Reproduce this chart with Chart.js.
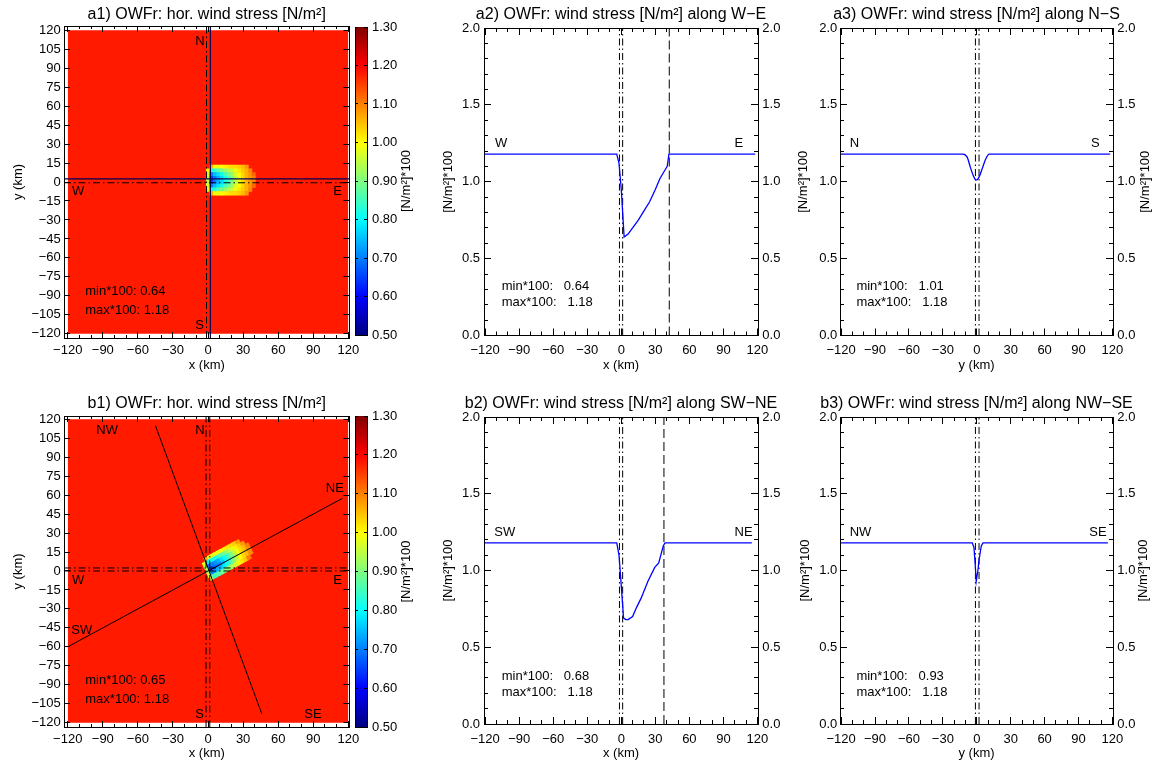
<!DOCTYPE html>
<html>
<head>
<meta charset="utf-8">
<title>OWFr wind stress</title>
<script src="https://cdn.jsdelivr.net/npm/chart.js@4.4.1/dist/chart.umd.min.js"></script>
<style>
  html, body { margin: 0; padding: 0; background: #fff; }
  #page { position: relative; width: 1154px; height: 762px; overflow: hidden; background: #fff; }
  #page canvas { position: absolute; }
</style>
</head>
<body>
<div id="page"></div>
<script>
// -- Values ----------------------------------------------------------------

// axis ticks
const kmTicks = [-120, -90, -60, -30, 0, 30, 60, 90, 120];
const kmMinorTicks = [-120, -110, -100, -90, -80, -70, -60, -50, -40, -30, -20, -10, 0,
  10, 20, 30, 40, 50, 60, 70, 80, 90, 100, 110, 120];
const kmTicksY = [-120, -105, -90, -75, -60, -45, -30, -15, 0, 15, 30, 45, 60, 75, 90, 105, 120];
const stressTicks = [0, 0.5, 1.0, 1.5, 2.0];
const stressMinorTicks = [0, 0.1, 0.2, 0.3, 0.4, 0.5, 0.6, 0.7, 0.8, 0.9, 1.0,
  1.1, 1.2, 1.3, 1.4, 1.5, 1.6, 1.7, 1.8, 1.9, 2.0];
const cbarTicks = [0.5, 0.6, 0.7, 0.8, 0.9, 1.0, 1.1, 1.2, 1.3];

// colour table anchors (jet)
const cbarStops = [0.5, 0.6, 0.8, 1.0, 1.2, 1.3];
const cbarColors = ['#000080', '#0000ff', '#00ffff', '#ffff00', '#ff0000', '#800000'];

// horizontal field: model domain and undisturbed value
const fieldX = [-120, 120];
const fieldY = [-120, 120];
const fieldBackground = 1.18;
const cellStep = 3;

// a1 wake, rows north -> south, columns west -> east
const a1CellX = [0, 3, 6, 9, 12, 15, 18, 21, 24, 27, 30, 33, 36, 39];
const a1CellY = [12, 9, 6, 3, 0, -3, -6, -9];
const a1Cells = [
  [1.18, 1.06, 0.99, 0.99, 1.00, 1.01, 1.02, 1.03, 1.03, 1.04, 1.05, 1.08, 1.18, 1.18],
  [1.01, 0.81, 0.84, 0.87, 0.89, 0.92, 0.94, 0.96, 0.99, 1.02, 1.04, 1.06, 1.09, 1.18],
  [0.97, 0.70, 0.75, 0.78, 0.81, 0.86, 0.89, 0.92, 0.97, 1.00, 1.03, 1.06, 1.08, 1.12],
  [0.95, 0.65, 0.70, 0.74, 0.77, 0.82, 0.86, 0.90, 0.95, 0.99, 1.03, 1.06, 1.08, 1.10],
  [0.95, 0.64, 0.70, 0.74, 0.77, 0.82, 0.86, 0.90, 0.95, 0.99, 1.03, 1.06, 1.08, 1.10],
  [0.97, 0.70, 0.75, 0.78, 0.81, 0.86, 0.89, 0.92, 0.97, 1.00, 1.03, 1.06, 1.08, 1.12],
  [1.01, 0.81, 0.84, 0.87, 0.89, 0.92, 0.94, 0.96, 0.99, 1.02, 1.04, 1.06, 1.09, 1.18],
  [1.18, 1.06, 0.99, 0.99, 1.00, 1.01, 1.02, 1.03, 1.03, 1.04, 1.05, 1.08, 1.18, 1.18],
];

// b1 wake along the SW-NE line: u along the line, w across it (w > 0 towards NW)
const b1AxisDeg = 26.6;
const b1CellU = [0, 3, 6, 9, 12, 15, 18, 21, 24, 27, 30, 33, 36, 39];
const b1CellW = [9, 6, 3, 0, -3, -6];
const b1Cells = [
  [1.18, 1.06, 0.98, 0.98, 0.99, 0.99, 1.00, 1.01, 1.02, 1.03, 1.04, 1.08, 1.18, 1.18],
  [0.97, 0.79, 0.81, 0.82, 0.83, 0.86, 0.88, 0.91, 0.95, 0.98, 1.01, 1.04, 1.08, 1.18],
  [0.94, 0.69, 0.70, 0.72, 0.74, 0.78, 0.81, 0.85, 0.90, 0.95, 0.99, 1.03, 1.05, 1.10],
  [0.93, 0.65, 0.67, 0.69, 0.71, 0.75, 0.79, 0.83, 0.89, 0.94, 0.99, 1.03, 1.05, 1.09],
  [0.95, 0.70, 0.72, 0.74, 0.75, 0.79, 0.82, 0.86, 0.91, 0.95, 1.00, 1.03, 1.05, 1.09],
  [0.99, 0.85, 0.86, 0.87, 0.88, 0.90, 0.92, 0.94, 0.97, 0.99, 1.02, 1.04, 1.10, 1.18],
];

// section lines drawn on the maps
const a1SectionWE = 2.5;     // y of the W-E section
const a1SectionNS = 2.0;     // x of the N-S section
const a1CentreX = [-1.3];
const a1CentreY = [-0.6];
const b1SectionNE = [[-120, -60], [115, 57.5]];
const b1SectionNW = [[-45, 115], [46, -113]];
const b1CentreX = [-1.7, 1.5];
const b1CentreY = [2.4, 0.0];

// profiles along the sections
const weX = [-121, -4, -2, 0, 2.5, 6, 10, 15, 20, 25, 30, 34, 38, 40.5, 42, 118];
const weStress = [1.18, 1.18, 1.12, 0.95, 0.64, 0.66, 0.70, 0.75, 0.81, 0.87, 0.95, 1.02, 1.07, 1.10, 1.18, 1.18];
const nsY = [-121, -12.5, -8.5, -5.5, -2.5, -0.5, 2, 5, 8, 11, 118];
const nsStress = [1.18, 1.18, 1.16, 1.09, 1.03, 1.01, 1.03, 1.09, 1.15, 1.18, 1.18];
const swneX = [-121, -4, -2, 0, 2, 4, 6, 10, 13.5, 17.5, 23.5, 29.5, 33, 37, 38.5, 115];
const swneStress = [1.18, 1.18, 1.10, 0.90, 0.69, 0.68, 0.68, 0.70, 0.76, 0.82, 0.93, 1.02, 1.05, 1.16, 1.18, 1.18];
const nwseY = [-121, -4, -2.5, -1.5, -0.5, 1, 2, 4, 5.5, 116];
const nwseStress = [1.18, 1.18, 1.15, 1.05, 0.93, 1.00, 1.07, 1.16, 1.18, 1.18];

// marker lines in the profile panels
const rowACentre = [-1.6, 1.2];
const colCentre = [-1.2, 2.0];
const weWakeEnd = 42.3;
const swneWakeEnd = 37.6;

// -- Look ------------------------------------------------------------------

const FONT = '"Liberation Sans", Arial, Helvetica, sans-serif';
const DASH_DOT = [7, 3, 1.5, 3];
const DASHED = [9, 4];
const NOTE_FONT = '13px ' + FONT;

Chart.defaults.font.family = FONT;
Chart.defaults.font.size = 13;
Chart.defaults.color = '#000';
Chart.defaults.animation = false;

// -- Helpers ---------------------------------------------------------------

const fmtKm = (v) => (v < 0 ? '\u2212' + Math.abs(v) : String(v));
const fmt1 = (v) => Number(v).toFixed(1);
const fmt2 = (v) => Number(v).toFixed(2);

function hexRgb(h) {
  return [1, 3, 5].map((i) => parseInt(h.slice(i, i + 2), 16));
}

function stressColor(v) {
  const lo = cbarStops[0], hi = cbarStops[cbarStops.length - 1];
  const t = Math.min(Math.max(v, lo), hi);
  let i = 0;
  while (i < cbarStops.length - 2 && t > cbarStops[i + 1]) i++;
  const f = (t - cbarStops[i]) / (cbarStops[i + 1] - cbarStops[i]);
  const a = hexRgb(cbarColors[i]), b = hexRgb(cbarColors[i + 1]);
  const c = a.map((ch, k) => Math.round(ch + (b[k] - ch) * f));
  return `rgb(${c[0]},${c[1]},${c[2]})`;
}

function makeCanvas(box) {
  const [x, y, w, h] = box;
  const c = document.createElement('canvas');
  c.width = w;
  c.height = h;
  c.style.left = x + 'px';
  c.style.top = y + 'px';
  c.style.width = w + 'px';
  c.style.height = h + 'px';
  document.getElementById('page').appendChild(c);
  return c;
}

function labelTicks(padding, callback) {
  return { display: true, padding, callback, autoSkip: false, maxRotation: 0, minRotation: 0 };
}

// One side of a plot frame: inward ticks, fixed box size.
// Border z > grid z so the border is drawn after the grid items are computed.
function axis(position, range, ticks, tickLen, size, weight, extra) {
  const horizontal = position === 'top' || position === 'bottom';
  return Object.assign({
    type: 'linear',
    position,
    min: range[0],
    max: range[1],
    weight,
    grid: { drawOnChartArea: false, drawTicks: true, tickLength: -tickLen, color: '#000', lineWidth: 1, z: 1 },
    border: { display: weight > 0, color: '#000', width: 1, z: 2 },
    ticks: { display: false },
    title: { display: false },
    afterBuildTicks: (scale) => { scale.ticks = ticks.map((value) => ({ value })); },
    afterFit: (scale) => { if (horizontal) scale.height = size; else scale.width = size; },
  }, extra || {});
}

function frameScales(p) {
  const [cx, cy, cw, ch] = p.canvas;
  const [fl, ft, fr, fb] = p.frame;
  const scales = {
    x: axis('bottom', p.xRange, p.xTicks, p.major, cy + ch - fb, 1, {
      ticks: labelTicks(p.xLabelPad, fmtKm),
      title: { display: true, text: p.xTitle, padding: { top: 0, bottom: p.xTitlePad } },
    }),
    xt: axis('top', p.xRange, p.xTicks, p.major, ft - cy, 1),
    y: axis('left', p.yRange, p.yTicks, p.major, fl - cx, 1, {
      ticks: labelTicks(p.yLabelPad, p.fmtY),
      title: { display: true, text: p.yTitle, padding: { top: p.yTitlePad, bottom: 0 } },
    }),
    yr: axis('right', p.yRange, p.yTicks, p.major, cx + cw - fr, 1,
      p.rightLabels ? { ticks: labelTicks(p.yLabelPadR, p.fmtY) } : {}),
  };
  if (p.xMinor) {
    scales.xm = axis('bottom', p.xRange, p.xMinor, p.minor, 0, 0);
    scales.xtm = axis('top', p.xRange, p.xMinor, p.minor, 0, 0);
  }
  if (p.yMinor) {
    scales.ym = axis('left', p.yRange, p.yMinor, p.minor, 0, 0);
    scales.yrm = axis('right', p.yRange, p.yMinor, p.minor, 0, 0);
  }
  return scales;
}

// Titles, in-plot labels and right-hand rotated titles.
const notesPlugin = {
  id: 'notes',
  afterDraw(chart, args, opts) {
    const { ctx, chartArea, scales } = chart;
    ctx.save();
    ctx.fillStyle = '#000';
    ctx.textBaseline = 'middle';
    if (opts.heading) {
      ctx.font = '16px ' + FONT;
      ctx.textAlign = 'center';
      ctx.fillText(opts.heading.text, (chartArea.left + chartArea.right) / 2, opts.heading.y);
    }
    (opts.items || []).forEach((n) => {
      ctx.font = NOTE_FONT;
      ctx.textAlign = 'left';
      ctx.fillText(n.text, scales.x.getPixelForValue(n.x), scales.y.getPixelForValue(n.y));
    });
    if (opts.sideTitle) {
      ctx.font = '13px ' + FONT;
      ctx.translate(chartArea.right + opts.sideTitle.dx, (chartArea.top + chartArea.bottom) / 2);
      ctx.rotate(-Math.PI / 2);
      ctx.textAlign = 'center';
      ctx.fillText(opts.sideTitle.text, 0, 0);
    }
    ctx.restore();
  },
};

function baseOptions(scales, notes) {
  return {
    responsive: false,
    animation: false,
    devicePixelRatio: 1,
    events: [],
    layout: { padding: 0, autoPadding: false },
    plugins: { legend: { display: false }, tooltip: { enabled: false }, notes },
    scales,
  };
}

function segment(points, color, width, dash, order) {
  return {
    type: 'line',
    data: points.map(([x, y]) => ({ x, y })),
    borderColor: color,
    borderWidth: width,
    borderDash: dash || [],
    pointRadius: 0,
    fill: false,
    tension: 0,
    order,
    xAxisID: 'x',
    yAxisID: 'y',
  };
}

// Square cell size taken from the axes, so the cells tile the map.
function cellRadius(chart, extra) {
  const sx = chart.scales.x, sy = chart.scales.y;
  const dx = Math.abs(sx.getPixelForValue(cellStep) - sx.getPixelForValue(0));
  const dy = Math.abs(sy.getPixelForValue(cellStep) - sy.getPixelForValue(0));
  return (Math.max(dx, dy) + extra) / Math.SQRT2;
}

function cellRotation(chart, deg) {
  if (!deg) return 0;
  const a = deg * Math.PI / 180;
  const sx = chart.scales.x, sy = chart.scales.y;
  const dx = sx.getPixelForValue(Math.cos(a)) - sx.getPixelForValue(0);
  const dy = sy.getPixelForValue(Math.sin(a)) - sy.getPixelForValue(0);
  return Math.atan2(dy, dx) * 180 / Math.PI;
}

function gridCells(xs, ys, rows, deg) {
  const a = deg * Math.PI / 180, c = Math.cos(a), s = Math.sin(a);
  const out = [];
  rows.forEach((row, j) => row.forEach((v, i) => {
    if (v >= fieldBackground) return;
    out.push({ x: xs[i] * c - ys[j] * s, y: xs[i] * s + ys[j] * c, v });
  }));
  return out;
}

function fieldDatasets(cells, deg) {
  return [
    {
      type: 'scatter',
      data: cells,
      pointStyle: 'rect',
      pointRadius: (ctx) => cellRadius(ctx.chart, deg ? 1.0 : 0.4),
      pointRotation: (ctx) => cellRotation(ctx.chart, deg),
      pointBackgroundColor: (ctx) => (ctx.raw ? stressColor(ctx.raw.v) : '#000'),
      pointBorderWidth: 0,
      order: 5,
      xAxisID: 'x',
      yAxisID: 'y',
    },
    {
      type: 'line',
      data: [{ x: fieldX[0], y: fieldY[1] }, { x: fieldX[1], y: fieldY[1] }],
      fill: { value: fieldY[0] },
      backgroundColor: stressColor(fieldBackground),
      borderWidth: 0,
      pointRadius: 0,
      order: 9,
      xAxisID: 'x',
      yAxisID: 'y',
    },
  ];
}

function profileDatasets(xs, vs, centres, wakeEnd, yRange, smooth) {
  const ds = [{
    type: 'line',
    data: xs.map((x, i) => ({ x, y: vs[i] })),
    borderColor: '#0000ff',
    borderWidth: 1.3,
    pointRadius: 0,
    fill: false,
    tension: 0,
    cubicInterpolationMode: smooth ? 'monotone' : 'default',
    order: 1,
    xAxisID: 'x',
    yAxisID: 'y',
  }];
  centres.forEach((x) => ds.push(segment([[x, yRange[0]], [x, yRange[1]]], '#000', 1, DASH_DOT, 2)));
  if (wakeEnd != null) ds.push(segment([[wakeEnd, yRange[0]], [wakeEnd, yRange[1]]], '#000', 1, DASHED, 2));
  return ds;
}

function panelChart(p, datasets, notes) {
  const canvas = makeCanvas(p.canvas);
  return new Chart(canvas, {
    type: 'scatter',
    data: { datasets },
    options: baseOptions(frameScales(p), notes),
    plugins: [notesPlugin],
  });
}

function colorbarChart(box, frame, titleDx, titleText) {
  const [cx, cy, cw, ch] = box;
  const [fl, ft, fr, fb] = frame;
  const edge = { display: true, color: '#000', width: 1 };
  const lo = cbarStops[0], hi = cbarStops[cbarStops.length - 1];
  const gradient = (ctx) => {
    const chart = ctx.chart;
    const ys = chart.scales.y;
    if (!ys || !chart.chartArea) return cbarColors[0];
    const g = chart.ctx.createLinearGradient(0, ys.getPixelForValue(lo), 0, ys.getPixelForValue(hi));
    cbarStops.forEach((v, i) => g.addColorStop((v - lo) / (hi - lo), cbarColors[i]));
    return g;
  };
  const canvas = makeCanvas(box);
  return new Chart(canvas, {
    type: 'bar',
    data: {
      labels: [''],
      datasets: [{
        data: [[lo, hi]],
        backgroundColor: gradient,
        borderWidth: 0,
        barPercentage: 1,
        categoryPercentage: 1,
        xAxisID: 'x',
        yAxisID: 'y',
      }],
    },
    options: baseOptions({
      x: {
        type: 'category', position: 'bottom', grid: { display: false }, border: edge,
        ticks: { display: false }, afterFit: (s) => { s.height = cy + ch - fb; },
      },
      xt: {
        type: 'category', position: 'top', grid: { display: false }, border: edge,
        ticks: { display: false }, afterFit: (s) => { s.height = ft - cy; },
      },
      y: axis('left', [lo, hi], cbarTicks, 3, fl - cx, 1),
      yr: axis('right', [lo, hi], cbarTicks, 3, cx + cw - fr, 1, { ticks: labelTicks(8, fmt2) }),
    }, { sideTitle: { text: titleText, dx: titleDx } }),
    plugins: [notesPlugin],
  });
}

// -- Panels ----------------------------------------------------------------

const unitTitle = '[N/m\u00b2]*100';

const mapCommon = {
  xTicks: kmTicks, xMinor: kmMinorTicks, yTicks: kmTicksY, yMinor: null,
  major: 6, minor: 3, fmtY: fmtKm, xTitle: 'x (km)', yTitle: 'y (km)',
  yLabelPad: 9.3, yTitlePad: 10.5, rightLabels: false,
};
const lineCommon = {
  xTicks: kmTicks, xMinor: kmMinorTicks, yTicks: stressTicks, yMinor: stressMinorTicks,
  major: 7, minor: 4, fmtY: fmt1, yTitle: unitTitle, yRange: [0, 2],
  xRange: [-121, 120.5], rightLabels: true, yLabelPadR: 11.3,
};

const a1 = Object.assign({}, mapCommon, {
  canvas: [0, 0, 380, 380], frame: [64, 26, 349.5, 338],
  xRange: [-123.2, 121], yRange: [-123.3, 123.3], xLabelPad: 10.2, xTitlePad: 7.2,
});
const b1 = Object.assign({}, mapCommon, {
  canvas: [0, 380, 380, 382], frame: [64, 416, 349.5, 727],
  xRange: [-123.2, 121], yRange: [-123.4, 122.6], xLabelPad: 10.5, xTitlePad: 1.0,
});
const a2 = Object.assign({}, lineCommon, {
  canvas: [420, 0, 380, 380], frame: [484, 28, 758, 335.5],
  xTitle: 'x (km)', xLabelPad: 13.7, xTitlePad: 7.2, yLabelPad: 11, yTitlePad: 20.2,
});
const a3 = Object.assign({}, lineCommon, {
  canvas: [780, 0, 374, 380], frame: [840, 28, 1113, 335.5],
  xTitle: 'y (km)', xLabelPad: 13.7, xTitlePad: 7.2, yLabelPad: 9.7, yTitlePad: 15.5,
});
const b2 = Object.assign({}, lineCommon, {
  canvas: [420, 380, 380, 382], frame: [484, 417, 758, 724],
  xTitle: 'x (km)', xLabelPad: 14.5, xTitlePad: 1.0, yLabelPad: 11, yTitlePad: 20.2,
});
const b3 = Object.assign({}, lineCommon, {
  canvas: [780, 380, 374, 382], frame: [840, 417, 1113, 724],
  xTitle: 'y (km)', xLabelPad: 14.5, xTitlePad: 1.0, yLabelPad: 9.7, yTitlePad: 17.2,
});

// a1 map
panelChart(a1, [
  segment([[a1.xRange[0], a1SectionWE], [a1.xRange[1], a1SectionWE]], '#000050', 1.2, null, 1),
  segment([[a1SectionNS, a1.yRange[0]], [a1SectionNS, a1.yRange[1]]], '#000050', 1.2, null, 1),
  ...a1CentreX.map((x) => segment([[x, a1.yRange[0]], [x, a1.yRange[1]]], '#000', 1, DASH_DOT, 2)),
  ...a1CentreY.map((y) => segment([[a1.xRange[0], y], [a1.xRange[1], y]], '#000', 1, DASH_DOT, 2)),
  ...fieldDatasets(gridCells(a1CellX, a1CellY, a1Cells, 0), 0),
], {
  heading: { text: 'a1) OWFr: hor. wind stress [N/m\u00b2]', y: 15 },
  items: [
    { text: 'N', x: -11, y: 110.9 },
    { text: 'S', x: -11, y: -113 },
    { text: 'W', x: -116.4, y: -7.7 },
    { text: 'E', x: 107.2, y: -7.7 },
    { text: 'min*100: 0.64', x: -105, y: -86.7 },
    { text: 'max*100: 1.18', x: -105, y: -101.7 },
  ],
});
colorbarChart([345, 0, 80, 380], [355, 27, 367, 335], 39.7, unitTitle);

// b1 map
panelChart(b1, [
  segment(b1SectionNE, '#000', 1, null, 1),
  segment(b1SectionNW, '#000', 1, null, 1),
  ...b1CentreX.map((x) => segment([[x, b1.yRange[0]], [x, b1.yRange[1]]], '#000', 1, DASH_DOT, 2)),
  ...b1CentreY.map((y) => segment([[b1.xRange[0], y], [b1.xRange[1], y]], '#000', 1, DASH_DOT, 2)),
  ...fieldDatasets(gridCells(b1CellU, b1CellW, b1Cells, b1AxisDeg), b1AxisDeg),
], {
  heading: { text: 'b1) OWFr: hor. wind stress [N/m\u00b2]', y: 23.3 },
  items: [
    { text: 'NW', x: -95.6, y: 111.5 },
    { text: 'N', x: -11, y: 111.5 },
    { text: 'NE', x: 100.7, y: 65.4 },
    { text: 'W', x: -116.4, y: -7.1 },
    { text: 'E', x: 107.2, y: -7.1 },
    { text: 'SW', x: -117, y: -46.7 },
    { text: 'S', x: -11, y: -113.4 },
    { text: 'SE', x: 82.4, y: -113.4 },
    { text: 'min*100: 0.65', x: -105, y: -86.2 },
    { text: 'max*100: 1.18', x: -105, y: -101.5 },
  ],
});
colorbarChart([345, 380, 80, 382], [355, 416, 367, 727], 39.7, unitTitle);

// profiles
panelChart(a2, profileDatasets(weX, weStress, rowACentre, weWakeEnd, a2.yRange, false), {
  heading: { text: 'a2) OWFr: wind stress [N/m\u00b2] along W\u2212E', y: 15 },
  items: [
    { text: 'W', x: -111.3, y: 1.25 },
    { text: 'E', x: 99.8, y: 1.25 },
    { text: 'min*100:   0.64', x: -105.4, y: 0.317 },
    { text: 'max*100:   1.18', x: -105.4, y: 0.213 },
  ],
});
panelChart(a3, profileDatasets(nsY, nsStress, colCentre, null, a3.yRange, true), {
  heading: { text: 'a3) OWFr: wind stress [N/m\u00b2] along N\u2212S', y: 15 },
  items: [
    { text: 'N', x: -112.4, y: 1.25 },
    { text: 'S', x: 101, y: 1.25 },
    { text: 'min*100:   1.01', x: -106.5, y: 0.317 },
    { text: 'max*100:   1.18', x: -106.5, y: 0.213 },
  ],
  sideTitle: { text: unitTitle, dx: 32 },
});
panelChart(b2, profileDatasets(swneX, swneStress, rowACentre, swneWakeEnd, b2.yRange, false), {
  heading: { text: 'b2) OWFr: wind stress [N/m\u00b2] along SW\u2212NE', y: 23.3 },
  items: [
    { text: 'SW', x: -111.9, y: 1.246 },
    { text: 'NE', x: 99.8, y: 1.246 },
    { text: 'min*100:   0.68', x: -105.4, y: 0.308 },
    { text: 'max*100:   1.18', x: -105.4, y: 0.208 },
  ],
});
panelChart(b3, profileDatasets(nwseY, nwseStress, colCentre, null, b3.yRange, false), {
  heading: { text: 'b3) OWFr: wind stress [N/m\u00b2] along NW\u2212SE', y: 23.3 },
  items: [
    { text: 'NW', x: -112.4, y: 1.246 },
    { text: 'SE', x: 99.5, y: 1.246 },
    { text: 'min*100:   0.93', x: -106.5, y: 0.308 },
    { text: 'max*100:   1.18', x: -106.5, y: 0.208 },
  ],
  sideTitle: { text: unitTitle, dx: 30.3 },
});
</script>
</body>
</html>
